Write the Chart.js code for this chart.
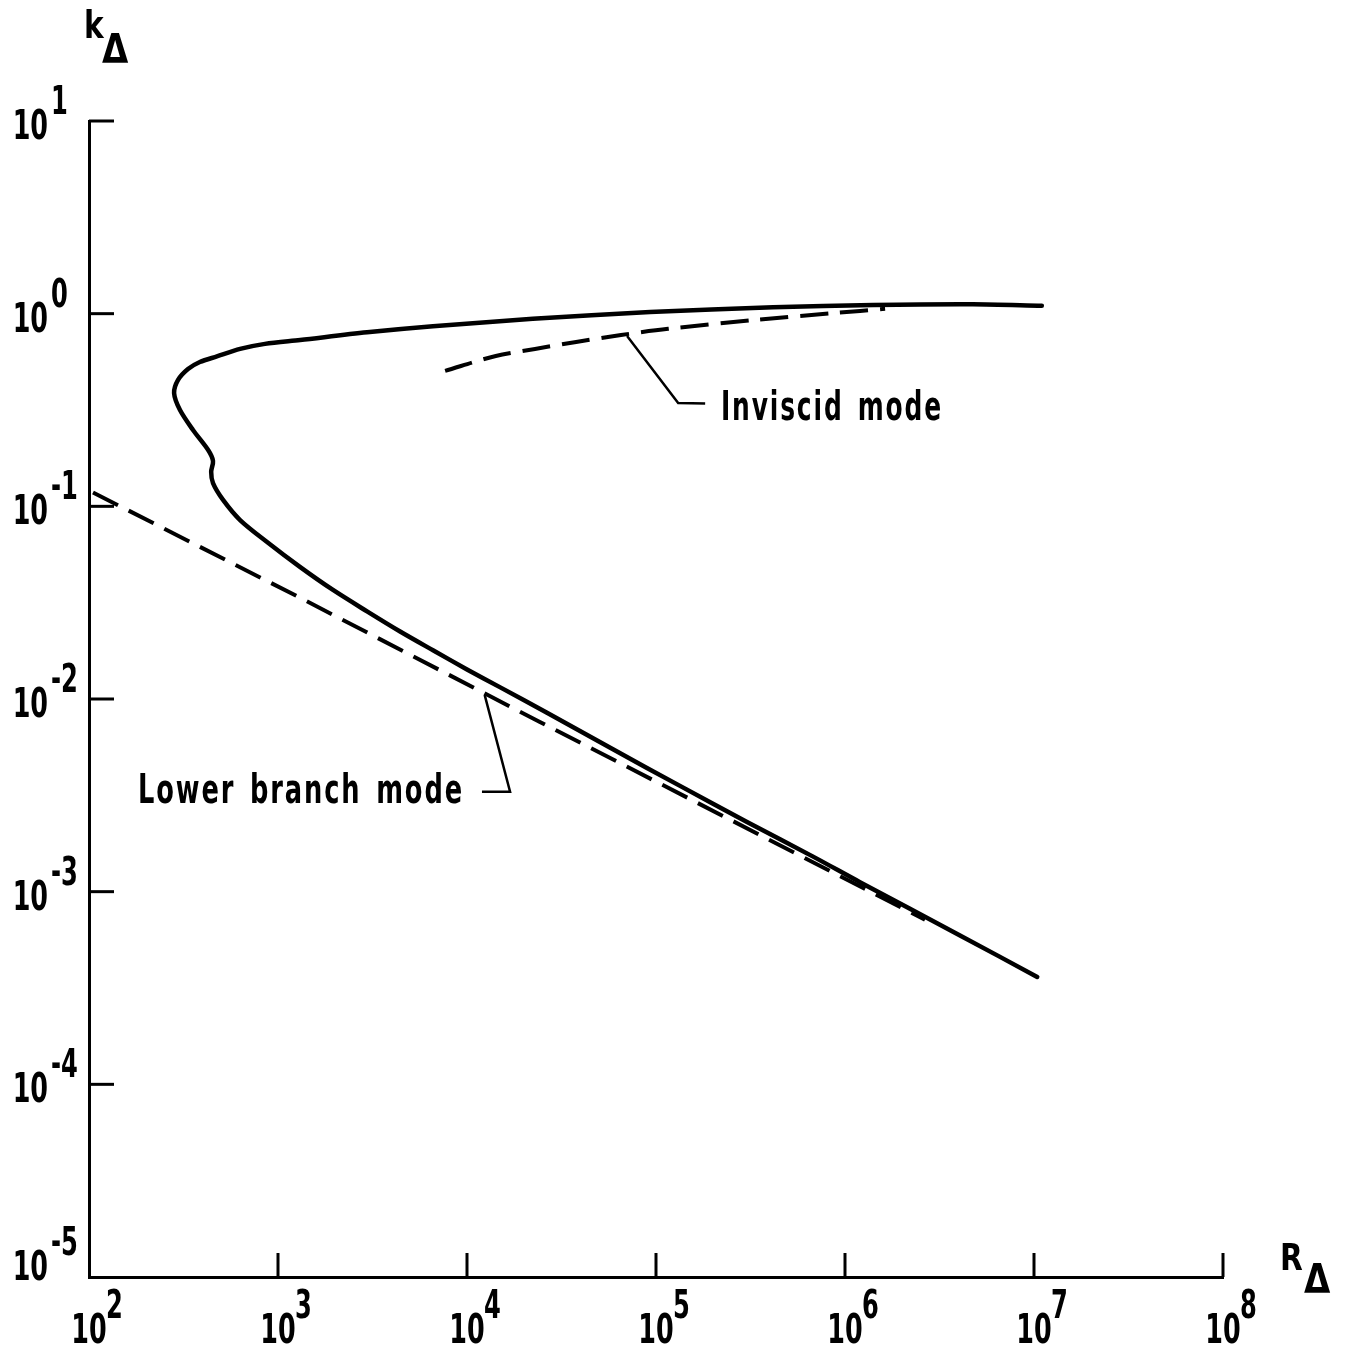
<!DOCTYPE html>
<html lang="en">
<head>
<meta charset="UTF-8">
<title>Neutral stability curve</title>
<script src="https://cdn.jsdelivr.net/npm/chart.js"></script>
<style>
  body { margin: 0; background: #fff; }
  #wrap { width: 1346px; height: 1350px; }
</style>
</head>
<body>
<div id="wrap"><canvas id="chart" width="1346" height="1350"></canvas></div>
<script>
// neutral curve, traced from its upper end round the nose to the lower end
const neutralR = [1.10e7, 4.75e6, 1.41e6, 4.16e5, 9.3e4, 2.23e4, 6.6e3, 2.96e3, 1.31e3, 853,
  630, 475, 386, 334, 296, 282, 303, 355, 427, 453, 443, 453, 512, 630, 875, 1306, 1954,
  2958, 4426, 6607, 1.0e4, 1.50e4, 2.65e4, 5.92e4, 1.34e5, 3.03e5, 6.78e5, 1.20e6, 4.06e6, 1.04e7];
const neutralK = [1.10, 1.12, 1.11, 1.08, 1.02, 0.94, 0.86, 0.80, 0.73, 0.697,
  0.656, 0.60, 0.561, 0.516, 0.453, 0.387, 0.316, 0.249, 0.196, 0.172, 0.151, 0.132, 0.108, 0.0849, 0.0653, 0.0485, 0.0368,
  0.0285, 0.0224, 0.0179, 0.01424, 0.01149, 0.00848, 0.00548, 0.00354, 0.00230, 0.00152, 0.00112, 5.93e-4, 3.61e-4];

// lower branch mode (dashed)
const lowerR = [105, 1310, 2.43e4, 2.65e6];
const lowerK = [0.118, 0.0335, 0.0076, 7.15e-4];

// inviscid mode (dashed)
const inviscidR = [7.66e3, 1.42e4, 2.29e4, 3.78e4, 6.53e4, 1.16e5, 3.34e5, 8.85e5, 1.63e6];
const inviscidK = [0.505, 0.603, 0.656, 0.713, 0.775, 0.834, 0.927, 1.008, 1.06];

// tick labels are 10^n
const xTickExps = [2, 3, 4, 5, 6, 7, 8];
const yTickExps = [1, 0, -1, -2, -3, -4, -5];

function toPoints(xs, ys) {
  return xs.map((x, i) => ({ x: x, y: ys[i] }));
}

const FONT = "'DejaVu Sans', sans-serif";

// draw text squeezed horizontally, to look like the condensed face of the original
function drawText(ctx, str, x, y, size, sx, align, weight) {
  ctx.save();
  ctx.font = (weight || 'normal') + ' ' + size + 'px ' + FONT;
  ctx.textBaseline = 'alphabetic';
  ctx.textAlign = 'left';
  const w = ctx.measureText(str).width * sx;
  let left = x;
  if (align === 'center') left = x - w / 2;
  else if (align === 'right') left = x - w;
  ctx.translate(left, y);
  ctx.scale(sx, 1);
  ctx.fillText(str, 0, 0);
  ctx.restore();
  return w;
}

// letter-spaced label squeezed to a given width
function fitText(ctx, str, x, y, size, width) {
  ctx.save();
  ctx.font = 'bold ' + size + 'px ' + FONT;
  ctx.letterSpacing = '3px';
  ctx.wordSpacing = '6px';
  ctx.textBaseline = 'alphabetic';
  ctx.textAlign = 'left';
  const sx = width / ctx.measureText(str).width;
  ctx.translate(x, y);
  ctx.scale(sx, 1);
  ctx.fillText(str, 0, 0);
  ctx.restore();
}

const decorations = {
  id: 'decorations',
  afterDraw(chart) {
    const { ctx, chartArea } = chart;
    const xs = chart.scales.x, ys = chart.scales.y;
    ctx.save();
    ctx.fillStyle = '#000';
    ctx.strokeStyle = '#000';
    ctx.lineWidth = 3;
    ctx.lineCap = 'butt';

    // inward ticks
    xTickExps.forEach((e, i) => {
      if (i === 0) return;
      const px = xs.getPixelForValue(Math.pow(10, e));
      ctx.beginPath();
      ctx.moveTo(px, chartArea.bottom);
      ctx.lineTo(px, chartArea.bottom - 24);
      ctx.stroke();
    });
    yTickExps.forEach((e, i) => {
      if (i === yTickExps.length - 1) return;
      const py = ys.getPixelForValue(Math.pow(10, e));
      ctx.beginPath();
      ctx.moveTo(chartArea.left, py);
      ctx.lineTo(chartArea.left + 25, py);
      ctx.stroke();
    });

    // tick labels
    xTickExps.forEach(e => {
      const px = xs.getPixelForValue(Math.pow(10, e));
      drawText(ctx, '10', px, 1343, 41, 0.62, 'center', 'bold');
      drawText(ctx, String(e), px + 17, 1318, 39, 0.62, 'left', 'bold');
    });
    yTickExps.forEach(e => {
      const py = ys.getPixelForValue(Math.pow(10, e));
      const base = Math.min(py + 18, chartArea.bottom + 3);
      drawText(ctx, '10', 48, base, 41, 0.62, 'right', 'bold');
      drawText(ctx, String(e), 51, base - 25, 39, 0.62, 'left', 'bold');
    });

    // axis titles
    drawText(ctx, 'k', 84, 38, 37, 0.8, 'left', 'bold');
    drawText(ctx, 'Δ', 102, 63, 40, 0.85, 'left', 'bold');
    drawText(ctx, 'R', 1280, 1270, 37, 0.8, 'left', 'bold');
    drawText(ctx, 'Δ', 1304, 1293, 40, 0.85, 'left', 'bold');

    // leader lines for the two mode labels
    ctx.lineWidth = 2.5;
    const lead = (pts) => {
      ctx.beginPath();
      pts.forEach((p, i) => {
        const px = xs.getPixelForValue(p[0]);
        const py = ys.getPixelForValue(p[1]);
        if (i === 0) ctx.moveTo(px, py); else ctx.lineTo(px, py);
      });
      ctx.stroke();
    };
    lead([[7.03e4, 0.766], [1.31e5, 0.344], [1.82e5, 0.342]]);
    lead([[1.24e4, 0.0105], [1.69e4, 0.0033], [1.2e4, 0.0033]]);

    fitText(ctx, 'Inviscid mode', 721, 420, 41, 222);
    fitText(ctx, 'Lower branch mode', 138, 803, 41, 326);
    ctx.restore();
  }
};

const ctx = document.getElementById('chart').getContext('2d');
new Chart(ctx, {
  type: 'scatter',
  data: {
    datasets: [
      {
        data: toPoints(neutralR, neutralK),
        showLine: true,
        borderColor: '#000',
        borderWidth: 4.5,
        pointRadius: 0,
        tension: 0.3,
        borderCapStyle: 'round',
        borderJoinStyle: 'round'
      },
      {
        data: toPoints(lowerR, lowerK),
        showLine: true,
        borderColor: '#000',
        borderWidth: 4,
        borderDash: [28, 12],
        pointRadius: 0,
        tension: 0
      },
      {
        data: toPoints(inviscidR, inviscidK),
        showLine: true,
        borderColor: '#000',
        borderWidth: 4,
        borderDash: [28, 12],
        pointRadius: 0,
        tension: 0.3
      }
    ]
  },
  options: {
    responsive: false,
    animation: false,
    layout: { padding: { top: 121, right: 123, left: 0, bottom: 0 } },
    plugins: {
      legend: { display: false },
      tooltip: { enabled: false }
    },
    scales: {
      x: {
        type: 'logarithmic',
        min: 100,
        max: 1e8,
        ticks: { display: false },
        grid: { display: false, drawTicks: false },
        border: { display: true, color: '#000', width: 3 },
        afterFit: s => { s.height = 73; }
      },
      y: {
        type: 'logarithmic',
        min: 1e-5,
        max: 10,
        ticks: { display: false },
        grid: { display: false, drawTicks: false },
        border: { display: true, color: '#000', width: 3 },
        afterFit: s => { s.width = 89; }
      }
    }
  },
  plugins: [decorations]
});
</script>
</body>
</html>
